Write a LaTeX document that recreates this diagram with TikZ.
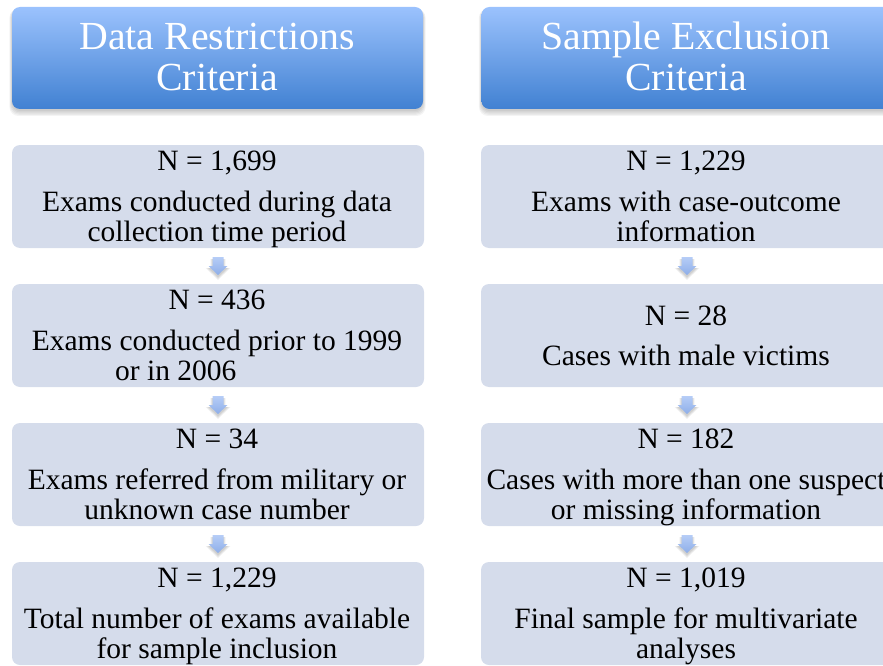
\documentclass[tikz,border=0pt]{standalone}
\usepackage{fontspec}
\setmainfont{Liberation Serif}
\usetikzlibrary{calc}
\definecolor{boxfill}{RGB}{213,220,235}
\definecolor{hdtop}{RGB}{155,194,253}
\definecolor{hdbot}{RGB}{65,129,210}
\definecolor{arrtop}{RGB}{182,205,247}
\definecolor{arrbot}{RGB}{142,174,232}
\pgfdeclarelayer{background}
\pgfsetlayers{background,main}
\newcommand\blkarrow[3]{%
  \coordinate (#3) at ($(#1.south)!0.5!(#2.north)$);
  \begin{pgfonlayer}{background}
  \foreach \s in {0,1,2,3}{
    \fill[black,opacity=0.05] ($(#3)+(-5.5-\s*0.7,-7)$) -- ($(#3)+(5.5+\s*0.7,-7)$) -- ($(#3)+(5.5+\s*0.7,2)$) -- ($(#3)+(9.5+\s,2)$) -- ($(#3)+(0,11+\s)$) -- ($(#3)+(-9.5-\s,2)$) -- ($(#3)+(-5.5-\s*0.7,2)$) -- cycle;
  }
  \end{pgfonlayer}
  \path[top color=arrtop,bottom color=arrbot] ($(#3)+(-5.5,-9)$) -- ($(#3)+(5.5,-9)$) -- ($(#3)+(5.5,0)$) -- ($(#3)+(9.5,0)$) -- ($(#3)+(0,9)$) -- ($(#3)+(-9.5,0)$) -- ($(#3)+(-5.5,0)$) -- cycle;
}
\begin{document}
\begin{tikzpicture}[x=1pt,y=-1pt,
  databox/.style={draw=none, fill=boxfill, rounded corners=8pt, minimum width=412pt, minimum height=103pt, inner sep=0pt},
  header/.style={draw=none, top color=hdtop, bottom color=hdbot, rounded corners=8pt, minimum width=411pt, minimum height=102pt, inner sep=0pt},
  bodytxt/.style={anchor=base, inner sep=0pt, font=\fontsize{29.5}{30}\selectfont, text=black},
  headtxt/.style={anchor=base, inner sep=0pt, font=\fontsize{39.8}{41}\selectfont, text=white},
]
\useasboundingbox (0,0) rectangle (883,666);
\clip (0,0) rectangle (883,666);

% headers
\node[header] (H1) at (217.5,58) {};
\node[header] (H2) at (687,58) {};
\begin{pgfonlayer}{background}
\foreach \h in {H1,H2}{
  \foreach \s in {0,1,2,3,4}{
    \fill[black,opacity=0.045,rounded corners=9pt] ($(\h.north west)+(-\s*0.6,2)$) rectangle ($(\h.south east)+(\s*0.6,2+\s*1.2)$);
  }
}
\end{pgfonlayer}
\node[headtxt] (H1a) at (217,50) {Data Restrictions};
\node[headtxt] (H1b) at (217,91) {Criteria};
\node[headtxt] (H2a) at (686,50) {Sample Exclusion};
\node[headtxt] (H2b) at (686,91) {Criteria};

% left column boxes
\node[databox] (L1) at (218,196.5) {};
\node[databox] (L2) at (218,335.5) {};
\node[databox] (L3) at (218,474.5) {};
\node[databox] (L4) at (218,613.5) {};
% right column boxes
\node[databox] (R1) at (687,196.5) {};
\node[databox] (R2) at (687,335.5) {};
\node[databox] (R3) at (687,474.5) {};
\node[databox] (R4) at (687,613.5) {};

% arrows
\blkarrow{L1}{L2}{a1}
\blkarrow{L2}{L3}{a2}
\blkarrow{L3}{L4}{a3}
\blkarrow{R1}{R2}{b1}
\blkarrow{R2}{R3}{b2}
\blkarrow{R3}{R4}{b3}

% left texts
\node[bodytxt] (L1n) at (217,170) {N = 1,699};
\node[bodytxt] (L1a) at (217,211) {Exams conducted during data};
\node[bodytxt] (L1b) at (217,241) {collection time period};

\node[bodytxt] (L2n) at (217,309) {N = 436};
\node[bodytxt] (L2a) at (217,350) {Exams conducted prior to 1999};
\node[bodytxt,anchor=base west] (L2b) at (115,380) {or in 2006};

\node[bodytxt] (L3n) at (217,448) {N = 34};
\node[bodytxt] (L3a) at (217,489) {Exams referred from military or};
\node[bodytxt] (L3b) at (217,519) {unknown case number};

\node[bodytxt] (L4n) at (217,587) {N = 1,229};
\node[bodytxt] (L4a) at (217,628) {Total number of exams available};
\node[bodytxt] (L4b) at (217,658) {for sample inclusion};

% right texts
\node[bodytxt] (R1n) at (686,170) {N = 1,229};
\node[bodytxt] (R1a) at (686,211) {Exams with case-outcome};
\node[bodytxt] (R1b) at (686,241) {information};

\node[bodytxt] (R2n) at (686,325) {N = 28};
\node[bodytxt] (R2a) at (686,365) {Cases with male victims};

\node[bodytxt] (R3n) at (686,448) {N = 182};
\node[bodytxt] (R3a) at (686,489) {Cases with more than one suspect};
\node[bodytxt] (R3b) at (686,519) {or missing information};

\node[bodytxt] (R4n) at (686,587) {N = 1,019};
\node[bodytxt] (R4a) at (686,628) {Final sample for multivariate};
\node[bodytxt] (R4b) at (686,658) {analyses};
\end{tikzpicture}
\end{document}
